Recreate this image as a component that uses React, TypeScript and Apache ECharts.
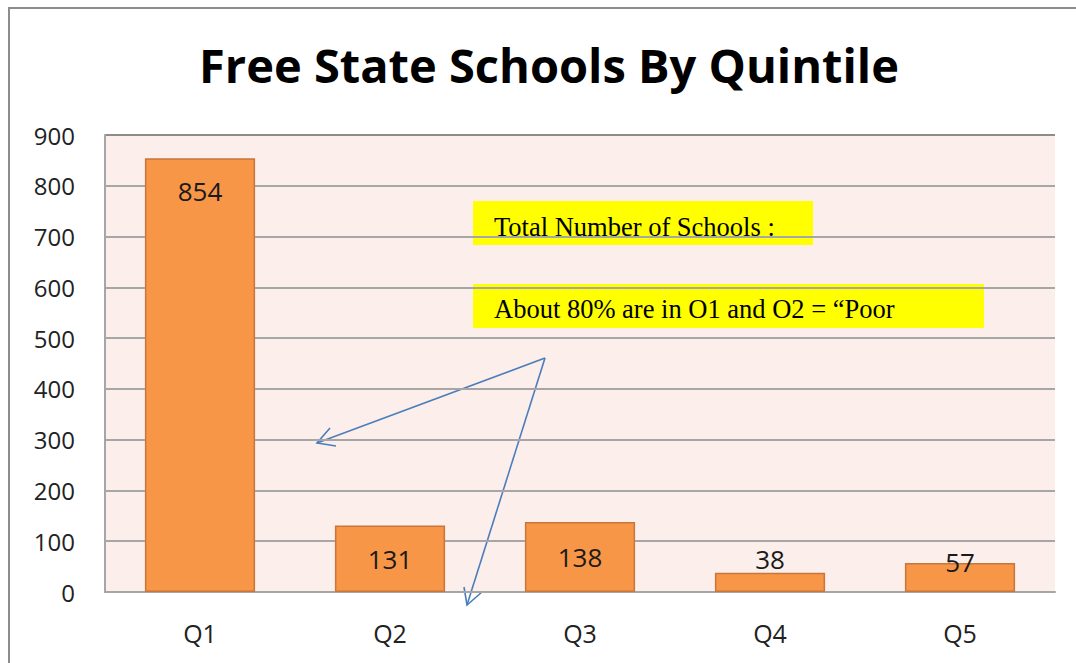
import React, { useEffect, useRef } from "react";
import * as echarts from "echarts";

const categories = ["Q1", "Q2", "Q3", "Q4", "Q5"];
const schools = [854, 131, 138, 38, 57];
const labelPositions = ["insideTop", "inside", "inside", "top", "top"];
const yTicks = { min: 0, max: 900, interval: 100 };
const titleText = "Free State Schools By Quintile";
const note1 = "Total Number of Schools :";
const note2 = "About 80% are in O1 and O2 = \u201cPoor";

const FONT = "'Open Sans', sans-serif";
const SERIF = "'Liberation Serif', 'Times New Roman', serif";

export default function App() {
  const ref = useRef<HTMLDivElement>(null);
  useEffect(() => {
    if (!ref.current) return;
    const chart = echarts.init(ref.current, null, { renderer: "svg" });
    const blue = "#4A7EBB";
    chart.setOption({
      animation: false,
      backgroundColor: "#ffffff",
      title: {
        text: titleText,
        left: 194,
        top: 36,
        itemGap: 0,
        textStyle: { fontFamily: FONT, fontWeight: 700, fontSize: 47, color: "#000" },
      },
      grid: {
        left: 105,
        right: 21,
        top: 135,
        bottom: 71,
        show: true,
        backgroundColor: "#FCEEEA",
        borderWidth: 0,
      },
      xAxis: {
        type: "category",
        data: categories,
        axisTick: { show: false },
        axisLine: { lineStyle: { color: "#A6A6A6", width: 2 } },
        axisLabel: { margin: 28, fontFamily: FONT, fontSize: 25, color: "#222" },
      },
      yAxis: {
        type: "value",
        min: yTicks.min,
        max: yTicks.max,
        interval: yTicks.interval,
        axisLine: { show: true, lineStyle: { color: "#A6A6A6", width: 2 } },
        axisTick: { show: false },
        splitLine: {
          lineStyle: {
            color: ["#A6A6A6", "#A6A6A6", "#A6A6A6", "#A6A6A6", "#A6A6A6", "#A6A6A6", "#A6A6A6", "#A6A6A6", "#A6A6A6", "#8C8C8C"],
            width: 2,
          },
        },
        axisLabel: { margin: 30, fontFamily: FONT, fontSize: 24, color: "#222" },
      },
      series: [
        {
          type: "bar",
          barWidth: "58%",
          data: schools.map((v, i) => ({
            value: v,
            label: {
              position: labelPositions[i],
              distance: i === 0 ? 20 : i === 4 ? -12 : 1,
            },
          })),
          itemStyle: { color: "#F79646", borderColor: "#C8763C", borderWidth: 1.5 },
          label: {
            show: true,
            fontFamily: FONT,
            fontSize: 26,
            color: "#1a1a1a",
          },
        },
      ],
      graphic: [
        {
          type: "polyline",
          shape: { points: [[9, 663], [9, 8], [1076, 8]] },
          style: { stroke: "#8c8c8c", lineWidth: 2, fill: null },
          silent: true,
        },
        {
          type: "rect",
          shape: { x: 473, y: 201, width: 340, height: 44 },
          style: { fill: "#FFFF00" },
        },
        {
          type: "text",
          x: 494,
          y: 227,
          style: {
            text: note1,
            fontFamily: SERIF,
            fontSize: 26.5,
            fill: "#000",
            verticalAlign: "middle",
          },
        },
        {
          type: "rect",
          shape: { x: 473, y: 284, width: 511, height: 44 },
          style: { fill: "#FFFF00" },
        },
        {
          type: "text",
          x: 494,
          y: 309,
          style: {
            text: note2,
            fontFamily: SERIF,
            fontSize: 26.5,
            fill: "#000",
            verticalAlign: "middle",
          },
        },
        {
          type: "line",
          shape: { x1: 545, y1: 358, x2: 317, y2: 443 },
          style: { stroke: blue, lineWidth: 1.6 },
        },
        {
          type: "polyline",
          shape: { points: [[330, 428], [317, 443], [336, 446]] },
          style: { stroke: blue, lineWidth: 1.6, fill: null },
        },
        {
          type: "line",
          shape: { x1: 545, y1: 358, x2: 467, y2: 605 },
          style: { stroke: blue, lineWidth: 1.6 },
        },
        {
          type: "polyline",
          shape: { points: [[464, 587], [467, 605], [482, 592]] },
          style: { stroke: blue, lineWidth: 1.6, fill: null },
        },
      ],
    });
    return () => chart.dispose();
  }, []);
  return (
    <div
      ref={ref}
      style={{ position: "fixed", left: 0, top: 0, width: 1076, height: 663 }}
    />
  );
}
